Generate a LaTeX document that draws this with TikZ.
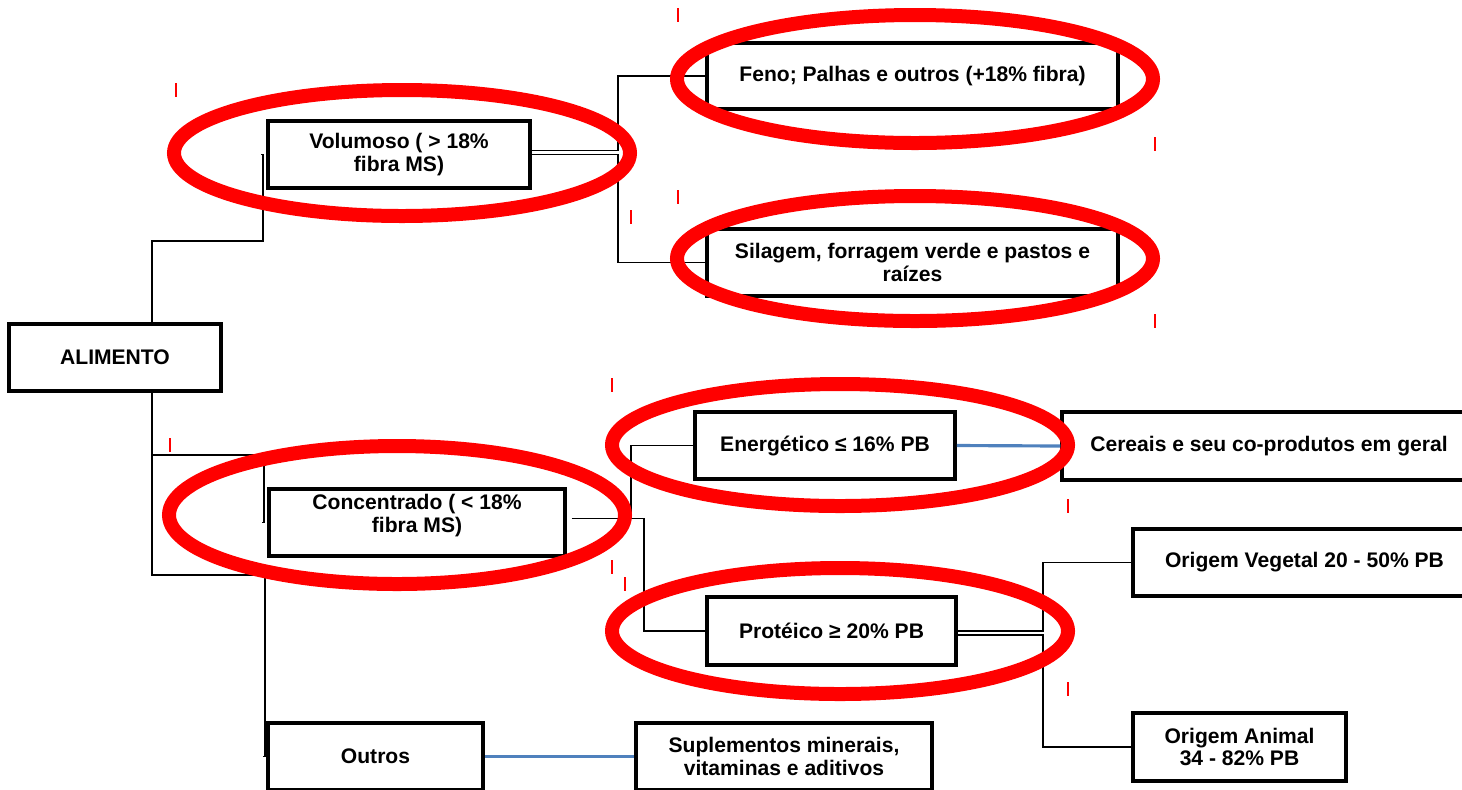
\documentclass[tikz,border=0pt]{standalone}
\usepackage{fontspec}
\setmainfont{Liberation Sans}
\definecolor{azul}{RGB}{79,129,189}

\begin{document}
\begin{tikzpicture}[x=0.02cm, y=-0.02cm,
    caixa/.style={draw, line width=2pt, align=center, inner sep=0pt, font=\fontsize{12}{13}\selectfont\bfseries},
    liga/.style={line width=0.8pt},
    elo/.style={azul, line width=1.8pt},
    anel/.style={red, line width=0.28cm},
    marca/.style={red, line width=0.7pt}]
        \useasboundingbox (0,0) rectangle (1462,789);
        \clip (0,0) rectangle (1462,789);

        % Boxes
        \foreach \nome/\cx/\cy/\w/\h/\txt in {
            ali/115/357.5/212/67/{ALIMENTO},
            vol/399/154.5/262/67/{Volumoso ( > 18\%\\ fibra MS)},
            feno/912.5/76/411/66/{Feno; Palhas e outros (+18\% fibra)},
            sil/912.5/262.5/411/67/{Silagem, forragem verde e pastos e\\ raízes},
            conc/417/522.5/296/67/{Concentrado ( < 18\%\\ fibra MS)\\[-6pt] \strut},
            ener/825/445.5/260/67/{Energético ≤ 16\% PB},
            prot/831.5/631/249/68/{Protéico ≥ 20\% PB},
            cer/1269/446/414/68/{Cereais e seu co-produtos em geral},
            veg/1304.5/562.5/343/67/{Origem Vegetal 20 - 50\% PB},
            ani/1239.5/747/213/68/{Origem Animal\\ 34 - 82\% PB},
            out/375.5/756.5/215/67/{Outros},
            sup/784/756.5/296/67/{Suplementos minerais,\\ vitaminas e aditivos}} {
            \node[caixa, minimum width=\w*0.02cm, minimum height=\h*0.02cm] (\nome) at (\cx,\cy) {\txt};
        }

        % Elbow lines
        \draw[liga] ([xshift=0.74cm]ali.north) |- (263,241) |- ([xshift=-0.1cm]vol.west);
        \draw[liga] ([xshift=0.74cm]ali.south) |- (264,455) |- ([xshift=-0.1cm]conc.west);
        \draw[liga] ([xshift=0.74cm]ali.south) |- (265,575) |- ([xshift=-0.06cm]out.west);
        \draw[liga] ([yshift=0.08cm]vol.east) -| (618,76) -- (feno.west);
        \draw[liga] (vol.east) -| (618,262.5) -- (sil.west);
        \draw[liga] ([xshift=0.1cm, yshift=0.08cm]conc.east) -| (631,445.5) -- (ener.west);
        \draw[liga] ([xshift=0.1cm, yshift=0.08cm]conc.east) -| (644,631) -- (prot.west);
        \draw[liga] (prot.east) -| (1043,562.5) -- (veg.west);
        \draw[liga] ([yshift=-0.08cm]prot.east) -| (1043,747) -- (ani.west);
        \draw[elo] (ener.east) -- (cer.west);
        \draw[elo] (out.east) -- (sup.west);

        % Small red ticks
        \foreach \x/\y in {176/83, 678/8, 1155/137, 678/190, 631/210, 1155/314, 612/378, 170/438, 612/560, 625/577, 1068/499, 1068/682} {
            \draw[marca] (\x,\y) -- ++(0,14);
        }

        % Red rings
        \foreach \cx/\cy/\rx/\ry in {402/153/228/63, 915/79/238/64, 915/258.5/238/62.5, 840/445/228/61, 840/631/228/63, 397/515/228/69} {
            \draw[anel] (\cx,\cy) ellipse [x radius=\rx*0.02cm, y radius=\ry*0.02cm];
        }
\end{tikzpicture}
\end{document}
